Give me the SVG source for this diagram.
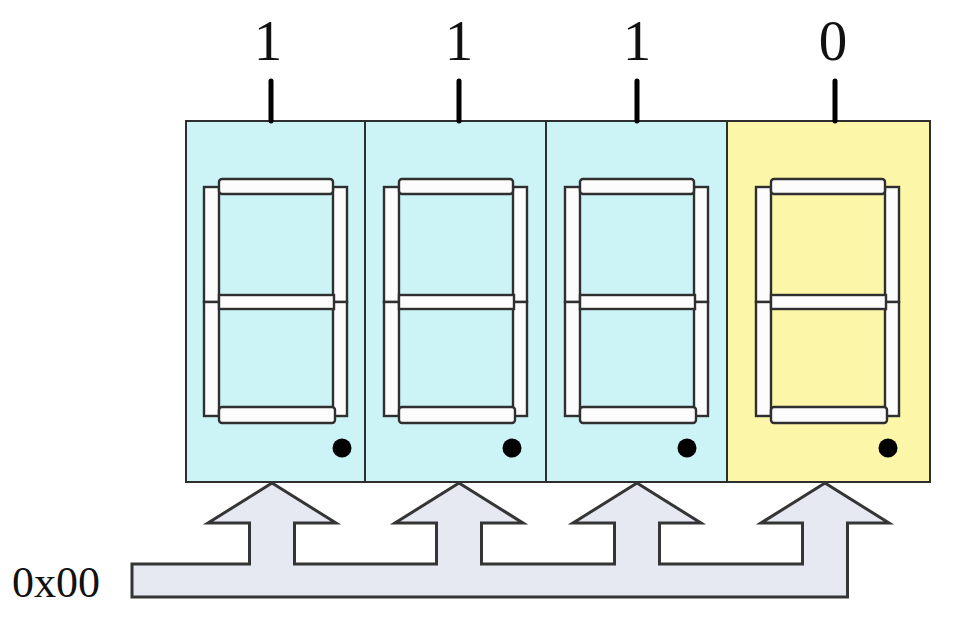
<svg xmlns="http://www.w3.org/2000/svg" xmlns:xlink="http://www.w3.org/1999/xlink" width="964" height="620" viewBox="0 0 964 620">
<style>
.panel{stroke:#2e2e2e;stroke-width:2}
.cyan{fill:#ccf4f7}
.yellow{fill:#fbf6a8}
.seg{fill:#fcfcfc;stroke:#2f2f2f;stroke-width:2.4}
.dot{fill:#000}
.tick{stroke:#000;stroke-width:5;stroke-linecap:round}
.lbl{font-family:"Liberation Serif","Times New Roman",serif;font-size:57px;fill:#111;text-anchor:middle}
.bus{fill:#e6e9f2;stroke:#353535;stroke-width:3;stroke-linejoin:miter}
.buslbl{font-family:"Liberation Serif","Times New Roman",serif;font-size:44px;fill:#111}
</style>
<defs>
<g id="digit">
<rect class="seg" x="0" y="187" width="15" height="115"/>
<rect class="seg" x="0" y="302" width="15" height="114"/>
<rect class="seg" x="129" y="187" width="14" height="115"/>
<rect class="seg" x="129" y="302" width="14" height="114"/>
<rect class="seg" x="15" y="179" width="114" height="15" rx="3"/>
<rect class="seg" x="15" y="295" width="115" height="14"/>
<rect class="seg" x="15" y="407" width="116" height="16" rx="3"/>
</g>
</defs>
<rect width="964" height="620" fill="#fff"/>
<g id="panel1">
<rect class="panel cyan" x="186" y="121" width="179" height="361"/>
<use xlink:href="#digit" href="#digit" x="204" y="0"/>
<circle class="dot" cx="342" cy="448" r="9.5"/>
</g>
<g id="panel2">
<rect class="panel cyan" x="365" y="121" width="181" height="361"/>
<use xlink:href="#digit" href="#digit" x="384" y="0"/>
<circle class="dot" cx="512" cy="448" r="9.5"/>
</g>
<g id="panel3">
<rect class="panel cyan" x="546" y="121" width="181" height="361"/>
<use xlink:href="#digit" href="#digit" x="565" y="0"/>
<circle class="dot" cx="687" cy="448" r="9.5"/>
</g>
<g id="panel4">
<rect class="panel yellow" x="727" y="121" width="203" height="361"/>
<use xlink:href="#digit" href="#digit" x="756" y="0"/>
<circle class="dot" cx="888" cy="448" r="9.5"/>
</g>
<g id="bits">
<line class="tick" x1="271" y1="81" x2="271" y2="121"/>
<line class="tick" x1="459" y1="81" x2="459" y2="121"/>
<line class="tick" x1="637" y1="81" x2="637" y2="121"/>
<line class="tick" x1="835" y1="81" x2="835" y2="121"/>
<text class="lbl" x="268" y="60">1</text>
<text class="lbl" x="459" y="60">1</text>
<text class="lbl" x="637" y="60">1</text>
<text class="lbl" x="833" y="60">0</text>
</g>
<g id="connectors">
<path class="bus" d="M132,564 L249.5,564 L249.5,523 L208,523 L272,483 L336,523 L294.5,523 L294.5,564 L436.5,564 L436.5,523 L395,523 L459,483 L523,523 L481.5,523 L481.5,564 L614.5,564 L614.5,523 L573,523 L637,483 L701,523 L659.5,523 L659.5,564 L802.5,564 L802.5,523 L761,523 L825,483 L889,523 L847.5,523 L847.5,597 L132,597 Z"/>
</g>
<g id="bus-label">
<text class="buslbl" x="12" y="597">0x00</text>
</g>
</svg>
